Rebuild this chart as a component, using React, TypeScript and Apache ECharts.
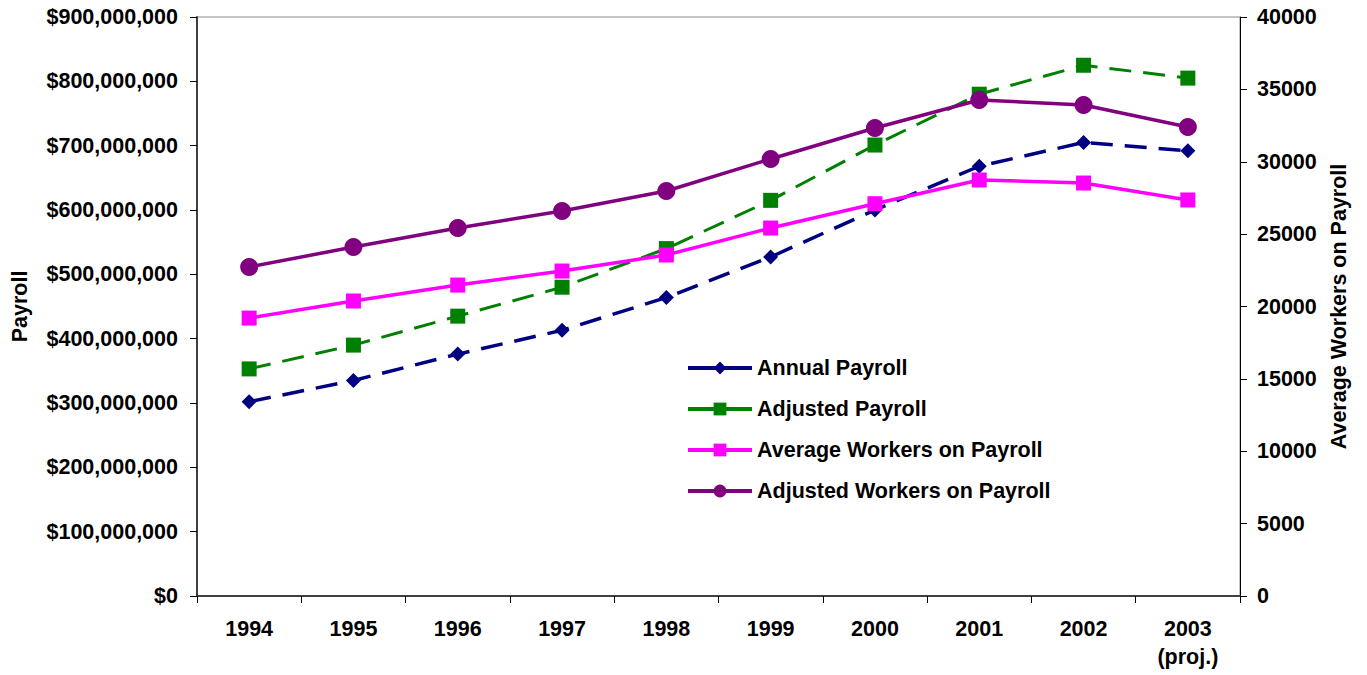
import React, { useEffect, useRef } from "react";
import * as echarts from "echarts";

const categories = ["1994", "1995", "1996", "1997", "1998", "1999", "2000", "2001", "2002", "2003\n(proj.)"];
const annualPayroll = [302000000, 335000000, 376000000, 413000000, 464000000, 527000000, 600000000, 668000000, 705000000, 692000000];
const adjustedPayroll = [353000000, 390000000, 435000000, 480000000, 540000000, 615000000, 701000000, 780000000, 825000000, 805000000];
const averageWorkers = [19200, 20380, 21480, 22450, 23560, 25420, 27100, 28740, 28530, 27360];
const adjustedWorkers = [22730, 24110, 25420, 26600, 27980, 30190, 32330, 34270, 33920, 32400];

const FONT = "'Liberation Sans', Arial, sans-serif";

function money(v: number): string {
  return "$" + String(Math.round(v)).replace(/\B(?=(\d{3})+(?!\d))/g, ",");
}

export default function App() {
  const ref = useRef<HTMLDivElement>(null);
  useEffect(() => {
    if (!ref.current) return;
    const chart = echarts.init(ref.current, undefined, { renderer: "svg" });
    const label = { fontFamily: FONT, fontWeight: "bold" as const, fontSize: 21.5, color: "#000" };
    chart.setOption({
      animation: false,
      backgroundColor: "#fff",
      grid: {
        left: 197,
        right: 127,
        top: 17,
        bottom: 79,
        show: true,
        borderColor: "#8a8a8a",
        borderWidth: 1,
      },
      legend: {
        orient: "vertical",
        left: 686,
        top: 357,
        padding: 0,
        itemWidth: 64,
        itemHeight: 16,
        itemGap: 19,
        textStyle: { ...label, lineHeight: 20.5 },
        lineStyle: { type: "solid", width: 4 },
        data: ["Annual Payroll", "Adjusted Payroll", "Average Workers on Payroll", "Adjusted Workers on Payroll"],
      },
      xAxis: {
        type: "category",
        data: categories,
        boundaryGap: true,
        axisLine: { lineStyle: { color: "#404040", width: 2 } },
        axisTick: { show: true, length: 7, lineStyle: { color: "#000", width: 1 } },
        axisLabel: { ...label, margin: 19, lineHeight: 28, interval: 0 },
        splitLine: { show: false },
      },
      yAxis: [
        {
          type: "value",
          min: 0,
          max: 900000000,
          interval: 100000000,
          name: "Payroll",
          nameLocation: "middle",
          nameRotate: 90,
          nameGap: 166,
          nameTextStyle: { ...label },
          axisLine: { show: true, lineStyle: { color: "#404040", width: 2 } },
          axisTick: { show: true, length: 7, lineStyle: { color: "#000", width: 1 } },
          axisLabel: { ...label, margin: 19, formatter: (v: number) => money(v) },
          splitLine: { show: false },
        },
        {
          type: "value",
          min: 0,
          max: 40000,
          interval: 5000,
          position: "right",
          name: "Average Workers on Payroll",
          nameLocation: "middle",
          nameRotate: 90,
          nameGap: 86,
          nameTextStyle: { ...label },
          axisLine: { show: true, lineStyle: { color: "#000", width: 1 } },
          axisTick: { show: true, length: 7, lineStyle: { color: "#000", width: 1 } },
          axisLabel: { ...label, margin: 17, formatter: (v: number) => String(v) },
          splitLine: { show: false },
        },
      ],
      series: [
        {
          name: "Annual Payroll",
          type: "line",
          yAxisIndex: 0,
          data: annualPayroll,
          symbol: "diamond",
          symbolSize: 15,
          itemStyle: { color: "#000080" },
          lineStyle: { color: "#000080", width: 3.5, type: [22, 12] },
        },
        {
          name: "Adjusted Payroll",
          type: "line",
          yAxisIndex: 0,
          data: adjustedPayroll,
          symbol: "rect",
          symbolSize: 15,
          itemStyle: { color: "#008000" },
          lineStyle: { color: "#008000", width: 3, type: [22, 12] },
        },
        {
          name: "Average Workers on Payroll",
          type: "line",
          yAxisIndex: 1,
          data: averageWorkers,
          symbol: "rect",
          symbolSize: 15,
          itemStyle: { color: "#FF00FF" },
          lineStyle: { color: "#FF00FF", width: 3.5 },
        },
        {
          name: "Adjusted Workers on Payroll",
          type: "line",
          yAxisIndex: 1,
          data: adjustedWorkers,
          symbol: "circle",
          symbolSize: 18,
          itemStyle: { color: "#800080" },
          lineStyle: { color: "#800080", width: 3.5 },
        },
      ],
    });
    return () => chart.dispose();
  }, []);
  return (
    <div
      ref={ref}
      style={{ position: "fixed", left: 0, top: 0, width: 1367, height: 675, background: "#fff" }}
    />
  );
}
